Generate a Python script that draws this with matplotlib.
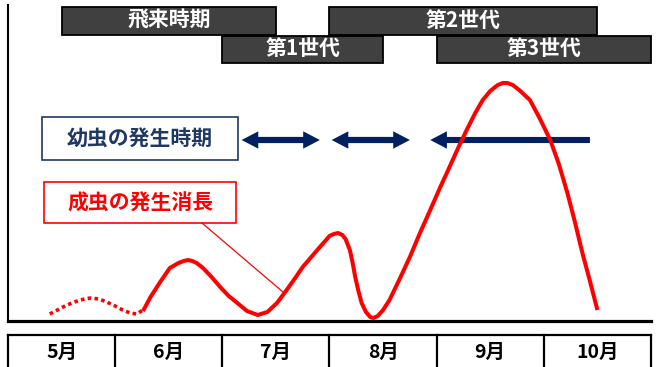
import numpy as np
import matplotlib.pyplot as plt
from matplotlib.patches import Rectangle, FancyArrowPatch, ArrowStyle
import matplotlib.transforms as mtransforms

plt.rcParams['font.family'] = ['Noto Sans CJK JP', 'DejaVu Sans']

#%%# data (x in months, y in relative abundance)

months = ['5月', '6月', '7月', '8月', '9月', '10月']
month_pos = [5, 6, 7, 8, 9, 10]

# flying-in adults (dotted part)
fly_x = [4.89, 5.05, 5.17, 5.27, 5.35, 5.42, 5.50, 5.57, 5.64, 5.70, 5.76]
fly_y = [7, 16, 21, 23, 22, 19, 15, 11, 8, 7, 11]

# adult occurrence curve
adult_x = [5.76, 5.83, 5.92, 6.01, 6.09, 6.14, 6.18, 6.22, 6.26, 6.32, 6.40, 6.48, 6.56, 6.64,
           6.73, 6.83, 6.92, 7.01, 7.10, 7.18, 7.25, 7.33, 7.41, 7.46, 7.50, 7.54, 7.58, 7.62,
           7.65, 7.69, 7.72, 7.74, 7.77, 7.80, 7.84, 7.88, 7.91, 7.95, 8.00, 8.06, 8.15, 8.25,
           8.34, 8.44, 8.53, 8.62, 8.70, 8.78, 8.86, 8.93, 9.00, 9.07, 9.12, 9.16, 9.21, 9.27,
           9.37, 9.46, 9.56, 9.64, 9.72, 9.79, 9.86, 9.93, 10.00]
adult_y = [10, 24, 39, 53, 58, 60, 61, 60, 58, 53, 44, 34, 25, 18,
           10, 6, 9, 18, 31, 43, 54, 64, 74, 80, 85, 87, 88, 86,
           82, 71, 56, 44, 30, 18, 9, 4, 3, 5, 11, 21, 41, 64,
           87, 111, 133, 154, 173, 191, 208, 221, 230, 236, 238, 238, 236, 231,
           221, 203, 181, 157, 128, 99, 68, 40, 11]

# period bars at the top
periods = ['飛来時期', '第1世代', '第2世代', '第3世代']
period_start = [5.0, 6.5, 7.5, 8.5]
period_end = [7.0, 8.0, 10.0, 10.5]
period_row = [0, 1, 0, 1]

# larval periods
larva_start = [6.68, 7.52, 8.44]
larva_end = [7.41, 8.25, 9.93]
larva_open = [False, False, True]
larva_level = 181

navy = '#002060'
red = '#FF0000'

#%%# figure

fig = plt.figure(figsize=(6.58, 3.67), dpi=100)
W, H = 658, 367

ax = fig.add_axes([8 / W, (H - 321) / H, (651 - 8) / W, (321 - 5) / H])
ax.patch.set_visible(False)
ax.set_xlim(4.5, 10.5)
ax.set_ylim(0, 316)
ax.set_xticks([])
ax.set_yticks([])
for s in ['top', 'right']:
    ax.spines[s].set_visible(False)
ax.spines['left'].set_linewidth(1.5)
ax.spines['bottom'].set_linewidth(2.3)
ax.spines['left'].set_color('black')
ax.spines['bottom'].set_color('black')

# period bars
row_y = [300, 271.5]
for name, s, e, r in zip(periods, period_start, period_end, period_row):
    ax.barh(row_y[r], e - s, left=s, height=27.5, color='#404040', edgecolor='black',
            linewidth=1.3, clip_on=False, zorder=3)
    ax.text((s + e) / 2, row_y[r] + 1, name, color='white', fontsize=15, fontweight='bold',
            ha='center', va='center', zorder=4)

# larval arrows
def half_arrow(x0, x1, y):
    st = ArrowStyle('simple', head_length=12, head_width=12.5, tail_width=4.4)
    p = FancyArrowPatch((x0, y), (x1, y), arrowstyle=st, mutation_scale=1,
                        color=navy, lw=0, shrinkA=0, shrinkB=0, zorder=2)
    ax.add_patch(p)

for s, e, op in zip(larva_start, larva_end, larva_open):
    if op:
        half_arrow(e, s, larva_level)
    else:
        m = (s + e) / 2
        ax.plot([s + 0.1, e - 0.1], [larva_level, larva_level], color=navy, lw=4.4,
                solid_capstyle='butt', zorder=2)
        half_arrow(m, s, larva_level)
        half_arrow(m, e, larva_level)

# adult curve
ax.plot(fly_x, fly_y, color=red, lw=2.6, linestyle=(0, (1, 0.9)),
        dash_capstyle='butt', zorder=5)
ax.plot(adult_x, adult_y, color=red, lw=2.9, solid_joinstyle='round',
        solid_capstyle='butt', zorder=5)

#%%# layout overlay (pixel coordinates)

lay = fig.add_axes([0, 0, 1, 1], zorder=-1)
lay.set_xlim(0, W)
lay.set_ylim(H, 0)
lay.axis('off')
lay.patch.set_visible(False)

# legend-like boxes
lay.add_patch(Rectangle((42, 117), 196, 43, facecolor='white', edgecolor='#1F3864', lw=1.2))
lay.text(140, 139, '幼虫の発生時期', color='#1F3864', fontsize=15, fontweight='bold',
         ha='center', va='center')
lay.add_patch(Rectangle((44, 182), 192, 41, facecolor='white', edgecolor=red, lw=1.2))
lay.text(140, 203, '成虫の発生消長', color=red, fontsize=15, fontweight='bold',
         ha='center', va='center')
lay.plot([202, 283], [223, 292], color=red, lw=0.9)

# month table
tr = mtransforms.blended_transform_factory(ax.transData, lay.transData)
bounds = [m - 0.5 for m in month_pos] + [month_pos[-1] + 0.5]
lay.plot([bounds[0], bounds[-1]], [335, 335], color='black', lw=1.6, transform=tr,
         solid_capstyle='projecting')
for b in bounds:
    lay.plot([b, b], [335, 372], color='black', lw=1.6, transform=tr, clip_on=False)
for m, lab in zip(month_pos, months):
    lay.text(m, 352, lab, fontsize=14, fontweight='bold', ha='center', va='center',
             transform=tr)

fig.savefig('out.png', dpi=100)
